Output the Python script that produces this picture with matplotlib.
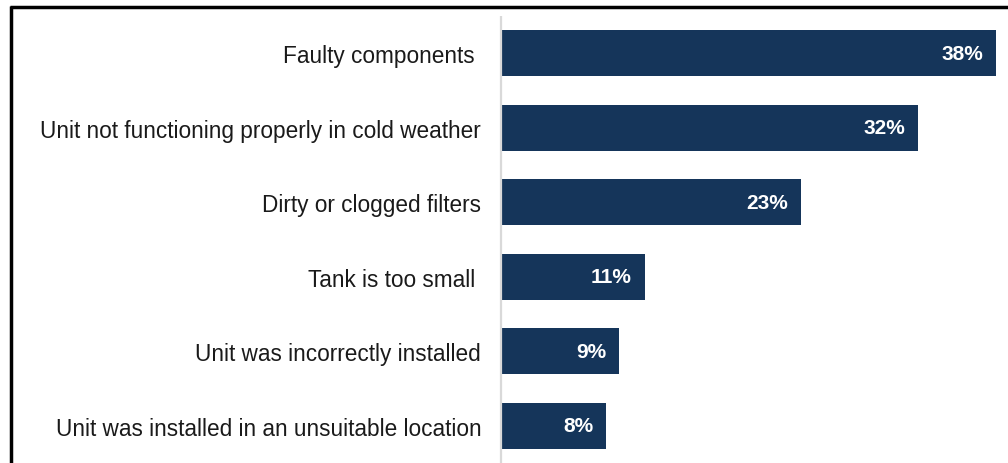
import matplotlib.pyplot as plt
from matplotlib.lines import Line2D

plt.rcParams['font.family'] = ['Liberation Sans', 'DejaVu Sans']

# data
reasons = ["Faulty components ",
           "Unit not functioning properly in cold weather",
           "Dirty or clogged filters",
           "Tank is too small ",
           "Unit was incorrectly installed",
           "Unit was installed in an unsuitable location"]
shares = [38, 32, 23, 11, 9, 8]

W, H = 1008, 464
fig = plt.figure(figsize=(W/100, H/100), dpi=100)
ax = fig.add_axes([502/W, 0, (W-502)/W, (H-17)/H])

pos = list(range(len(reasons)))
ax.barh(pos, shares, height=0.62, color='#15355A')
ax.set_ylim(5.5, -0.5)
ax.set_xlim(0, (W-502)/13)

ax.set_yticks(pos)
ax.set_yticklabels(reasons, fontsize=16.3, color='#1a1a1a')
ax.tick_params(axis='y', length=0, pad=15)
ax.set_xticks([])
for s in ['top', 'right', 'bottom']:
    ax.spines[s].set_visible(False)
ax.spines['left'].set_visible(False)

# light vertical axis line just left of the bars
fig.add_artist(Line2D([500.5/W, 500.5/W], [0, 1 - 17/H], color='#d9d9d9',
                      lw=1.6, solid_capstyle='butt', transform=fig.transFigure))

for p, v in zip(pos, shares):
    ax.text(v - 1.0, p, f"{v}%", ha='right', va='center', color='white',
            fontsize=15, fontweight='bold')

# frame lines of the original slide
fig.add_artist(Line2D([10/W, 1], [1 - 8/H, 1 - 8/H], color='black', lw=2.5,
                      solid_capstyle='butt', transform=fig.transFigure))
fig.add_artist(Line2D([11/W, 11/W], [0, 1 - 7/H], color='black', lw=2.5,
                      solid_capstyle='butt', transform=fig.transFigure))

fig.savefig('out.png', dpi=100)
